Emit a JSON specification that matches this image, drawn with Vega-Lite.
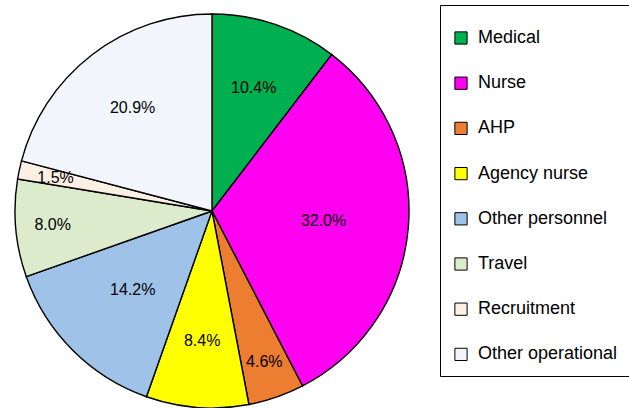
{
  "$schema": "https://vega.github.io/schema/vega-lite/v6.json",
  "width": 424,
  "height": 422,
  "padding": 0,
  "autosize": {"type": "pad"},
  "background": "white",
  "config": {"view": {"stroke": null}, "font": "Liberation Sans"},
  "data": {
    "values": [
      {"category": "Medical", "value": 10.4, "label": "10.4%", "rank": 1},
      {"category": "Nurse", "value": 32.0, "label": "32.0%", "rank": 2},
      {"category": "AHP", "value": 4.6, "label": "4.6%", "rank": 3},
      {"category": "Agency nurse", "value": 8.4, "label": "8.4%", "rank": 4},
      {"category": "Other personnel", "value": 14.2, "label": "14.2%", "rank": 5},
      {"category": "Travel", "value": 8.0, "label": "8.0%", "rank": 6},
      {"category": "Recruitment", "value": 1.5, "label": "1.5%", "rank": 7},
      {"category": "Other operational", "value": 20.9, "label": "20.9%", "rank": 8}
    ]
  },
  "encoding": {
    "theta": {"field": "value", "type": "quantitative", "stack": true},
    "order": {"field": "rank", "type": "quantitative"}
  },
  "layer": [
    {
      "mark": {"type": "arc", "outerRadius": 197, "stroke": "black", "strokeWidth": 1.4},
      "encoding": {
        "color": {
          "field": "category",
          "type": "nominal",
          "sort": ["Medical", "Nurse", "AHP", "Agency nurse", "Other personnel", "Travel", "Recruitment", "Other operational"],
          "scale": {
            "domain": ["Medical", "Nurse", "AHP", "Agency nurse", "Other personnel", "Travel", "Recruitment", "Other operational"],
            "range": ["#00b050", "#ff00f0", "#ed7d31", "#ffff00", "#9fc2e9", "#dcebcb", "#fcefe4", "#f2f6fc"]
          },
          "legend": {
            "title": " ",
            "titleFontSize": 2,
            "titlePadding": 10,
            "orient": "none",
            "legendX": 440,
            "legendY": 5,
            "strokeColor": "black",
            "padding": 12,
            "fillColor": "white",
            "symbolType": "square",
            "symbolSize": 150,
            "symbolStrokeColor": "black",
            "symbolStrokeWidth": 1,
            "labelFontSize": 18,
            "labelColor": "black",
            "labelOffset": 8,
            "labelLimit": 300,
            "rowPadding": 27.2
          }
        }
      }
    },
    {
      "mark": {"type": "text", "radius": 130, "fontSize": 16, "color": "black"},
      "encoding": {
        "text": {"field": "label"},
        "opacity": {
          "condition": {"test": {"field": "category", "oneOf": ["Medical", "Agency nurse", "Other operational"]}, "value": 1},
          "value": 0
        }
      }
    },
    {
      "mark": {"type": "text", "radius": 112, "fontSize": 16, "color": "black"},
      "encoding": {
        "text": {"field": "label"},
        "opacity": {
          "condition": {"test": {"field": "category", "oneOf": ["Nurse", "Other personnel"]}, "value": 1},
          "value": 0
        }
      }
    },
    {
      "mark": {"type": "text", "radius": 160, "fontSize": 16, "color": "black"},
      "encoding": {
        "text": {"field": "label"},
        "opacity": {
          "condition": {"test": {"field": "category", "oneOf": ["AHP", "Travel", "Recruitment"]}, "value": 1},
          "value": 0
        }
      }
    }
  ]
}
